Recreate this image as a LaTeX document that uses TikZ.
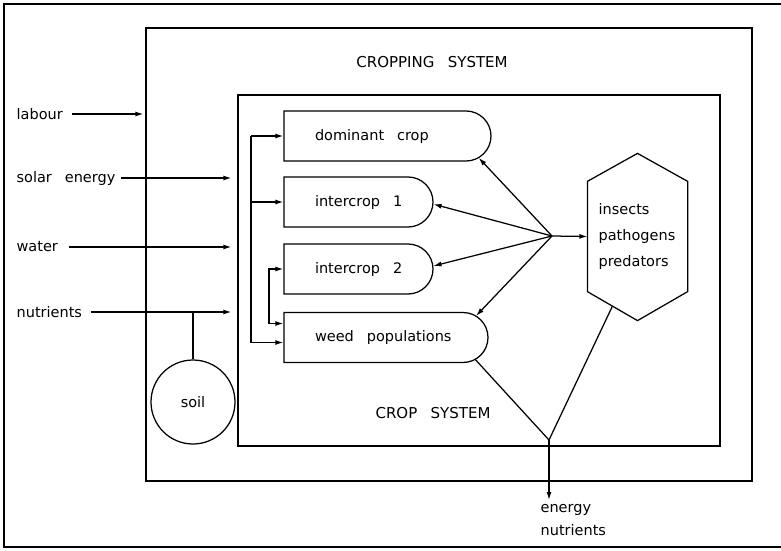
\documentclass[tikz,border=0pt]{standalone}
\usepackage{fontspec}
\setmainfont[WordSpace=2.8]{DejaVu Sans}
\usetikzlibrary{arrows.meta,calc,shapes.misc}
\begin{document}
\begin{tikzpicture}[x=1pt,y=1pt,
  line width=1.25pt,
  font=\fontsize{14.5}{18}\selectfont,
  arr/.style={-{Latex[length=8pt,width=5pt]}},
  dbl/.style={{Latex[length=8pt,width=5pt]}-{Latex[length=8pt,width=5pt]}},
  frame/.style={draw,rectangle,inner sep=0pt},
  plant/.style={draw, rounded rectangle, rounded rectangle west arc=none, minimum height=50pt, inner sep=0pt},
  lbl/.style={anchor=west, inner sep=0pt},
  caps/.style={font=\fontsize{15}{16}\selectfont, inner sep=0pt}
]
\useasboundingbox (0,0) rectangle (781,550);
% outer frame (right edge outside picture)
\coordinate (ftr) at (782,546);
\coordinate (fbr) at (782,3);
\draw (ftr) -- (4,546) -- (4,3) -- (fbr);

% system boxes
\node[frame, minimum width=606pt, minimum height=453pt] (cropping) at (449,295.5) {};
\node[frame, minimum width=482pt, minimum height=351pt] (crop) at (479,279.5) {};
\node[caps] (croppingt) at (432,488) {CROPPING SYSTEM};
\node[caps] (cropt) at (433,137) {CROP SYSTEM};

% inputs
\node[lbl] (labour) at (16,436) {labour};
\node[lbl] (solar) at (16,372) {solar energy};
\node[lbl] (water) at (16,303) {water};
\node[lbl] (nutr) at (16,238) {nutrients};
\draw[arr, shorten >=2pt] ($(labour.east)+(9,0)$) -- (labour.east -| cropping.west);
\draw[arr, shorten >=6pt] ($(solar.east)+(5,0)$) -- (solar.east -| crop.west);
\draw[arr, shorten >=6pt] ($(water.east)+(10,0)$) -- (water.east -| crop.west);
\draw[arr, shorten >=6pt] ($(nutr.east)+(8,0)$) -- (nutr.east -| crop.west);

% soil
\node[draw, circle, minimum size=84pt, inner sep=0pt] (soil) at (193,148) {soil};
\draw (soil.north) -- (soil.north |- nutr.east);

% plant populations
\node[plant, minimum width=207pt] (dom) at (387.5,414) {};
\node[plant, minimum width=149pt] (ic1) at (358.5,348) {};
\node[plant, minimum width=149pt] (ic2) at (358.5,281) {};
\node[plant, minimum width=204pt] (weed) at (386,212.5) {};
\node[lbl] (domt) at ($(dom.west)+(31,0)$) {dominant crop};
\node[lbl] (ic1t) at ($(ic1.west)+(31,0)$) {intercrop 1};
\node[lbl] (ic2t) at ($(ic2.west)+(31,0)$) {intercrop 2};
\node[lbl] (weedt) at ($(weed.west)+(31,0)$) {weed populations};

% feeding bus
\coordinate (busx) at (251,0);
\coordinate (brx) at (269,0);
\coordinate (wfeed) at ($(weed.west)+(0,-5)$);
\coordinate (wbr) at ($(weed.west)+(0,14)$);
\draw (busx |- dom.west) -- (busx |- wfeed);
\draw[arr] (busx |- dom.west) -- (dom.west);
\draw[arr] (busx |- ic1.west) -- (ic1.west);
\draw[arr] (busx |- wfeed) -- (wfeed);
\draw[dbl] (ic2.west) -- (brx |- ic2.west) -- (brx |- wbr) -- (wbr);

% pests hexagon
\node[minimum width=99pt, minimum height=109pt, inner sep=0pt] (ins) at (637.5,313.5) {};
\coordinate (inst) at ($(ins.north)+(0,28)$);
\coordinate (insb) at ($(ins.south)+(0,-29)$);
\draw (ins.north west) -- (inst) -- (ins.north east) -- (ins.south east) -- (insb) -- (ins.south west) -- cycle;
\node[lbl, align=left, font=\fontsize{14.5}{26}\selectfont] (instxt) at (598,314) {insects\\pathogens\\predators};

% hub
\coordinate (hub) at (552,314);
\draw[arr] (hub) -- (ins.west);
\draw[arr] (hub) -- ($(dom.east)+(-25,0)+(-61:25)$);
\draw[arr] (hub) -- ($(ic1.east)+(-25,0)+(-5:25)$);
\draw[arr] (hub) -- ($(ic2.east)+(-25,0)+(7:25)$);
\draw[arr] (hub) -- ($(weed.east)+(-25,0)+(60:25)$);

% outputs
\coordinate (v) at (549,110);
\coordinate (out) at (549,50);
\draw ($(weed.east)+(-25,0)+(-62:25)$) -- (v) -- ($(ins.south west)!0.5!(insb)$);
\draw[arr] (v) -- (out);
\node[lbl, align=left, font=\fontsize{14.5}{23}\selectfont] (outt) at (540,30) {energy\\nutrients};
\end{tikzpicture}
\end{document}
